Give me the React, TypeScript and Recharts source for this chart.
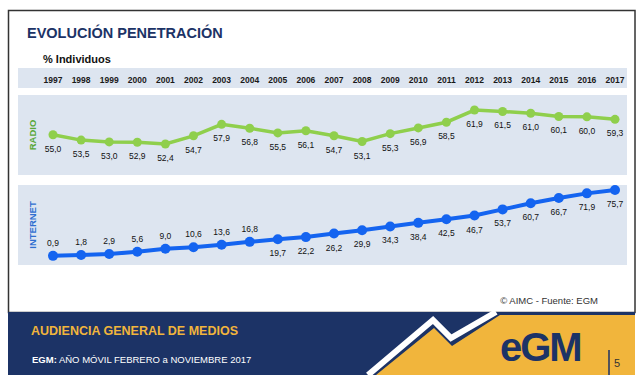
import { LabelList, Line, LineChart, XAxis, YAxis } from "recharts";

const years = ["1997", "1998", "1999", "2000", "2001", "2002", "2003", "2004", "2005", "2006", "2007", "2008", "2009", "2010", "2011", "2012", "2013", "2014", "2015", "2016", "2017"];
const radio = [55.0, 53.5, 53.0, 52.9, 52.4, 54.7, 57.9, 56.8, 55.5, 56.1, 54.7, 53.1, 55.3, 56.9, 58.5, 61.9, 61.5, 61.0, 60.1, 60.0, 59.3];
const internet = [0.9, 1.8, 2.9, 5.6, 9.0, 10.6, 13.6, 16.8, 19.7, 22.2, 26.2, 29.9, 34.3, 38.4, 42.5, 46.7, 53.7, 60.7, 66.7, 71.9, 75.7];

const rows = years.map((year, i) => ({ year, radio: radio[i], internet: internet[i] }));

const font = "'Liberation Sans', Arial, sans-serif";
const navy = "#1c3366";
const gold = "#f1b53c";
const green = "#8fcf4c";
const blue = "#1464f0";
const panel = "#dde5f0";
const margin = { top: 0, right: 25, bottom: 0, left: 53 };

const fmt = (v: any) => Number(v).toFixed(1).replace(".", ",");

function ValueLabel(props: any) {
  const { x, y, value, above } = props;
  const dy = above ? -10 : 17;
  return (
    <text x={x} y={y + dy} textAnchor="middle" fontSize={8.5} fontFamily={font} fill="#111">
      {fmt(value)}
    </text>
  );
}

export default function App() {
  return (
    <div style={{ position: "absolute", left: 0, top: 0, width: 640, height: 384, background: "#fff", fontFamily: font }}>
      <svg width={640} height={384} style={{ position: "absolute", left: 0, top: 0 }}>
        <rect x={8.5} y={10.5} width={626.5} height={302} fill="#fff" stroke="#333" strokeWidth={1.5} />
        <text x={27} y={38} fontSize={14.5} fontWeight="bold" fill={navy}>EVOLUCIÓN PENETRACIÓN</text>
        <text x={43} y={63} fontSize={11} fontWeight="bold" fill="#111">% Individuos</text>
        <rect x={18} y={68} width={609} height={20} fill={panel} />
        <rect x={18} y={95} width={609} height={80} fill={panel} />
        <rect x={18} y={185} width={609} height={80} fill={panel} />
        <text x={0} y={0} transform="translate(36,135) rotate(-90)" textAnchor="middle" fontSize={9.5} fontWeight="bold" fill="#5aa83a">RADIO</text>
        <text x={0} y={0} transform="translate(36,225) rotate(-90)" textAnchor="middle" fontSize={9.5} fontWeight="bold" fill="#2f6fd0">INTERNET</text>
        <text x={598} y={304} textAnchor="end" fontSize={9.5} fill="#333">© AIMC - Fuente: EGM</text>
        <rect x={8} y={312} width={627} height={63} fill={navy} />
        <polygon points="376,375 434,328 452,346 500,315 635,315 635,375" fill={gold} />
        <polyline points="368,375 433,320 451,338 496,312" fill="none" stroke="#fff" strokeWidth={6} />
        <text x={31} y={335} fontSize={12.5} fontWeight="bold" fill={gold}>AUDIENCIA GENERAL DE MEDIOS</text>
        <text x={32} y={363} fontSize={9.5} fill="#fff">
          <tspan fontWeight="bold">EGM:</tspan> AÑO MÓVIL FEBRERO a NOVIEMBRE 2017
        </text>
        <text x={500} y={361} fontSize={40} fontWeight="bold" fill={navy} letterSpacing={-2}>eGM</text>
        <line x1={609} y1={350} x2={609} y2={375} stroke={navy} strokeWidth={1.5} />
        <text x={614} y={367} fontSize={11} fill="#333">5</text>
      </svg>

      <div style={{ position: "absolute", left: 0, top: 68 }}>
        <LineChart width={640} height={107} data={rows} margin={margin}>
          <XAxis dataKey="year" orientation="top" height={27} axisLine={false} tickLine={false} tickSize={0} tickMargin={12} interval={0} tick={{ fontSize: 8.5, fontWeight: "bold", fill: "#1a1a1a", fontFamily: font }} />
          <YAxis hide domain={[43.75, 66.1]} />
          <Line dataKey="radio" stroke={green} strokeWidth={3.5} dot={{ r: 4.5, fill: green, stroke: "none" }} isAnimationActive={false}>
            <LabelList dataKey="radio" content={(p: any) => <ValueLabel {...p} above={false} />} />
          </Line>
        </LineChart>
      </div>

      <div style={{ position: "absolute", left: 0, top: 185 }}>
        <LineChart width={640} height={80} data={rows} margin={margin}>
          <XAxis dataKey="year" hide />
          <YAxis hide domain={[-9.5, 81.4]} />
          <Line dataKey="internet" stroke={blue} strokeWidth={4} dot={{ r: 5, fill: blue, stroke: "none" }} isAnimationActive={false}>
            <LabelList dataKey="internet" content={(p: any) => <ValueLabel {...p} above={Number(p.value) < 18} />} />
          </Line>
        </LineChart>
      </div>
    </div>
  );
}
